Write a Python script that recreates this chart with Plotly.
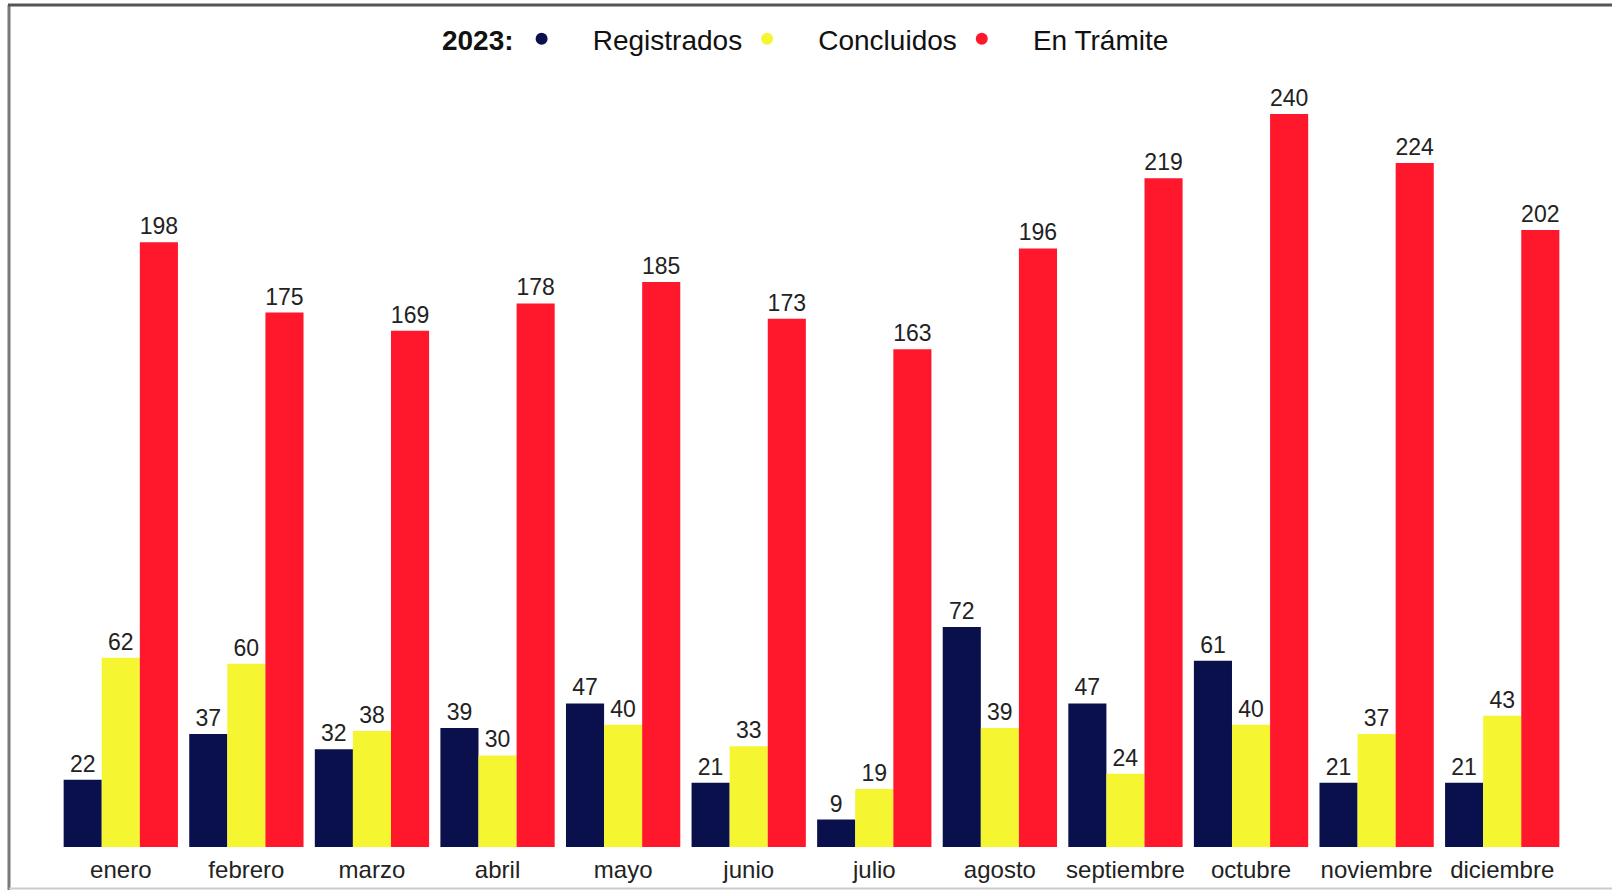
import plotly.graph_objects as go

meses = ["enero", "febrero", "marzo", "abril", "mayo", "junio", "julio",
         "agosto", "septiembre", "octubre", "noviembre", "diciembre"]
registrados = [22, 37, 32, 39, 47, 21, 9, 72, 47, 61, 21, 21]
concluidos = [62, 60, 38, 30, 40, 33, 19, 39, 24, 40, 37, 43]
en_tramite = [198, 175, 169, 178, 185, 173, 163, 196, 219, 240, 224, 202]

series = [("Registrados", registrados, "#0A104C"),
          ("Concluidos", concluidos, "#F5F532"),
          ("En Trámite", en_tramite, "#FF172C")]

W, H = 1612, 890
ML, MR, MT, MB = 58, 47, 80, 43
PW, PH = W - ML - MR, H - MT - MB

fig = go.Figure()
for name, vals, col in series:
    fig.add_trace(go.Bar(
        x=meses, y=vals, name=name, marker=dict(color=col, line=dict(width=0)),
        text=[str(v) for v in vals], textposition="outside",
        textfont=dict(size=23, color="#222222", family="Liberation Sans, Arial"),
        constraintext="none", cliponaxis=False, showlegend=False,
    ))
for name, vals, col in series:
    fig.add_trace(go.Scatter(
        x=[None], y=[None], mode="markers", name="    " + name,
        marker=dict(color=col, size=14, symbol="circle"), showlegend=True,
    ))

def px_x(p):
    return (p - ML) / PW

def px_y(p):
    return (H - MB - p) / PH

shapes = [
    dict(type="line", xref="paper", yref="paper", x0=px_x(9), x1=px_x(9),
         y0=px_y(5), y1=px_y(890), line=dict(color="#7a7a7a", width=3)),
    dict(type="line", xref="paper", yref="paper", x0=px_x(8), x1=px_x(1612),
         y0=px_y(5), y1=px_y(5), line=dict(color="#555555", width=3)),
    dict(type="line", xref="paper", yref="paper", x0=px_x(9), x1=px_x(1612),
         y0=px_y(888.5), y1=px_y(888.5), line=dict(color="#cccccc", width=2)),
]

fig.update_layout(
    width=W, height=H,
    margin=dict(l=ML, r=MR, t=MT, b=MB, pad=0, autoexpand=False),
    paper_bgcolor="white", plot_bgcolor="white",
    barmode="group", bargap=0.09, bargroupgap=0,
    font=dict(family="Liberation Sans, Arial", color="#111111"),
    legend=dict(
        orientation="h", x=0.497, xanchor="center", y=px_y(39), yanchor="middle",
        font=dict(size=28, color="#111111"),
        title=dict(text="<b>2023:</b>", font=dict(size=28, color="#111111"), side="left"),
        itemsizing="constant",
    ),
    xaxis=dict(showgrid=False, showline=False, zeroline=False, ticks="", automargin=False,
               tickfont=dict(size=24, color="#222222"), ticklabelstandoff=6),
    yaxis=dict(range=[0, PH / 3.054], showgrid=False, showline=False, zeroline=False,
               showticklabels=False, ticks="", automargin=False),
    shapes=shapes,
)

fig.write_html("out.html", config={"displayModeBar": False},
               post_script="document.body.style.margin='0';document.body.style.overflow='hidden';")
